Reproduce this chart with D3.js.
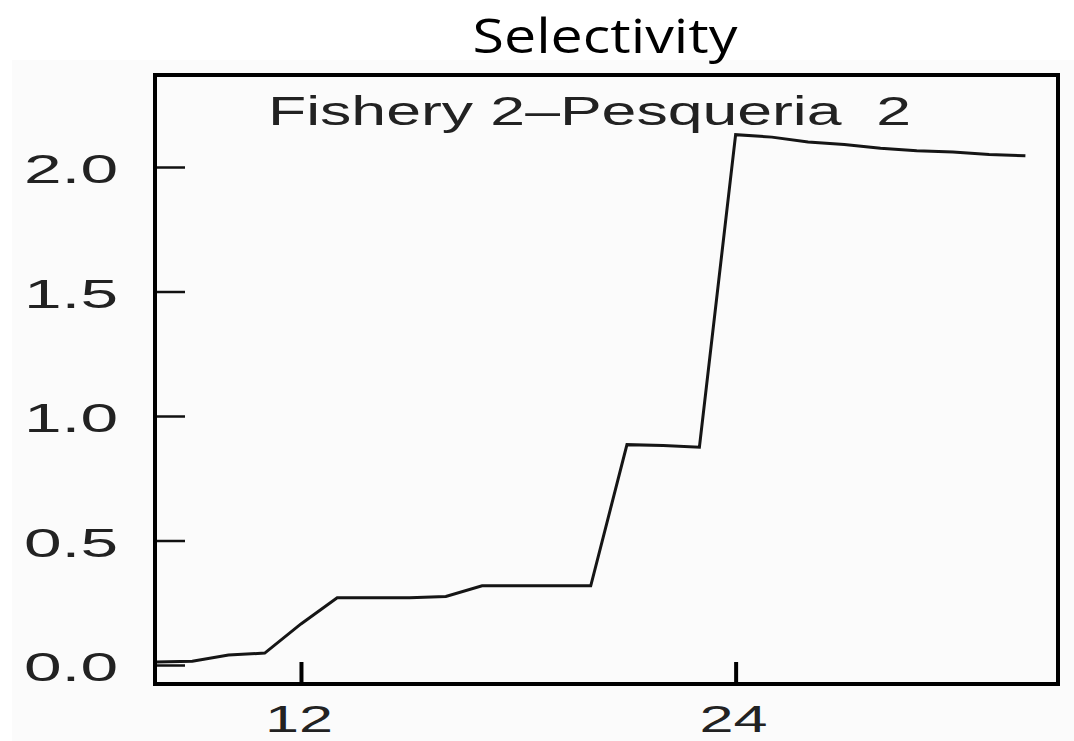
<!DOCTYPE html>
<html>
<head>
<meta charset="utf-8">
<script src="https://cdn.jsdelivr.net/npm/d3@7/dist/d3.min.js"></script>
<style>
  html, body { margin: 0; padding: 0; background: #ffffff; }
  svg { display: block; }
</style>
</head>
<body>
<svg id="chart" width="1074" height="741"></svg>
<script>
// ---- data ----
const lengths = [8, 9, 10, 11, 12, 13, 14, 15, 16, 17, 18, 19, 20, 21, 22, 23, 24, 25, 26, 27, 28, 29, 30, 31, 32];
const selectivity = [0.012, 0.015, 0.04, 0.048, 0.165, 0.27, 0.27, 0.27, 0.275, 0.318, 0.318, 0.318, 0.318,
                     0.885, 0.882, 0.875, 2.13, 2.12, 2.10, 2.09, 2.075, 2.065, 2.06, 2.05, 2.045];
const xTicks = [12, 24];
const yTicks = [0.0, 0.5, 1.0, 1.5, 2.0];
const titleText = "Selectivity";
const panelText = "Fishery 2\u2013Pesqueria\u00a0\u00a02";

// ---- layout ----
const svg = d3.select("#chart");
const L = 155, R = 1058, T = 75, B = 684;

svg.append("rect").attr("x", 12).attr("y", 60).attr("width", 1062).attr("height", 681)
  .attr("fill", "#fbfbfb");

const x = d3.scaleLinear().domain([7.97, 32.9]).range([L, R]);
const y = d3.scaleLinear().domain([-0.0763, 2.3695]).range([B, T]);

// title
svg.append("text").attr("x", 605).attr("y", 53)
  .attr("text-anchor", "middle")
  .attr("font-family", "'Open Sans', sans-serif")
  .attr("font-size", 48)
  .attr("textLength", 265).attr("lengthAdjust", "spacingAndGlyphs")
  .attr("fill", "#000")
  .text(titleText);

// panel label
svg.append("text").attr("x", 268).attr("y", 125)
  .attr("font-family", "'Liberation Sans', Arial, sans-serif")
  .attr("font-size", 40)
  .attr("textLength", 643).attr("lengthAdjust", "spacingAndGlyphs")
  .attr("fill", "#222")
  .text(panelText);

// axes with inward ticks
const gy = svg.append("g").attr("transform", `translate(${L},0)`)
  .call(d3.axisRight(y).tickValues(yTicks).tickSize(30).tickFormat(""));
gy.select(".domain").remove();
gy.selectAll(".tick line").attr("stroke", "#111").attr("stroke-width", 2.5);

const gx = svg.append("g").attr("transform", `translate(0,${B})`)
  .call(d3.axisTop(x).tickValues(xTicks).tickSize(22).tickFormat(""));
gx.select(".domain").remove();
gx.selectAll(".tick line").attr("stroke", "#000").attr("stroke-width", 4);

// tick labels (stretched sans)
svg.append("g").selectAll("text").data(yTicks).join("text")
  .attr("x", 24).attr("y", d => y(d) + 16)
  .attr("font-family", "'Liberation Sans', Arial, sans-serif")
  .attr("font-size", 40)
  .attr("textLength", 94).attr("lengthAdjust", "spacingAndGlyphs")
  .attr("fill", "#222")
  .text(d => d3.format(".1f")(d));

svg.append("g").selectAll("text").data(xTicks).join("text")
  .attr("x", d => x(d) - 36).attr("y", 732)
  .attr("font-family", "'Liberation Sans', Arial, sans-serif")
  .attr("font-size", 36)
  .attr("textLength", 68).attr("lengthAdjust", "spacingAndGlyphs")
  .attr("fill", "#222")
  .text(d => d);

// line
const line = d3.line().x((d, i) => x(lengths[i])).y(d => y(d));
svg.append("path").datum(selectivity)
  .attr("d", line)
  .attr("fill", "none")
  .attr("stroke", "#151515")
  .attr("stroke-width", 3)
  .attr("stroke-linejoin", "miter");

// frame
svg.append("rect").attr("x", L).attr("y", T).attr("width", R - L).attr("height", B - T)
  .attr("fill", "none").attr("stroke", "#000").attr("stroke-width", 4);
</script>
</body>
</html>
